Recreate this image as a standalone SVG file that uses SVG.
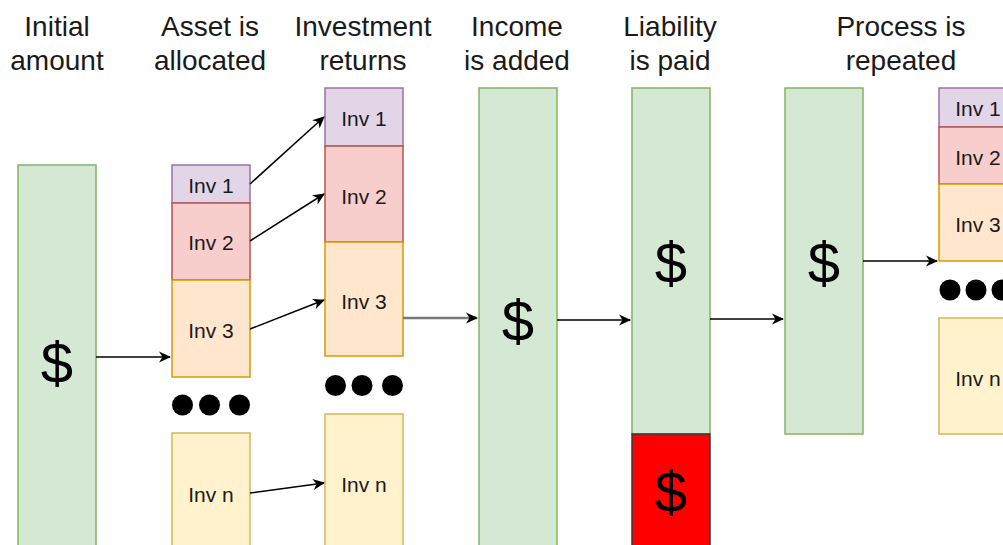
<svg xmlns="http://www.w3.org/2000/svg" width="1003" height="545" viewBox="0 0 1003 545">
<style>
.h{font-family:"Liberation Sans",Arial,sans-serif;font-size:28px;fill:#1a1a1a;text-anchor:middle}
.l{font-family:"Liberation Sans",Arial,sans-serif;font-size:21px;fill:#1a1a1a;text-anchor:middle;dominant-baseline:central}
.d{font-family:"Liberation Sans",Arial,sans-serif;font-size:58px;fill:#000;text-anchor:middle;dominant-baseline:central}
.g{fill:#d5e8d4;stroke:#82b366;stroke-width:1.5}
.p{fill:#e1d5e7;stroke:#9673a6;stroke-width:1.5}
.r{fill:#f8cecc;stroke:#b85450;stroke-width:1.5}
.o{fill:#ffe6cc;stroke:#d79b00;stroke-width:1.5}
.y{fill:#fff2cc;stroke:#d6b656;stroke-width:1.5}
.rr{fill:#ff0000;stroke:#36393d;stroke-width:1.5}
.c{stroke:#000;stroke-width:1.5;fill:none;marker-end:url(#a)}
</style>
<defs>
<marker id="a" viewBox="0 0 12 12" refX="11" refY="6" markerWidth="12" markerHeight="12" markerUnits="userSpaceOnUse" orient="auto">
<path d="M0,0.5 L12,6 L0,11.5 L3.5,6 Z" fill="#000"/>
</marker>
</defs>
<rect width="1003" height="545" fill="#fff"/>
<g id="headers">
<text class="h" x="57" y="36">Initial</text><text class="h" x="57" y="70">amount</text>
<text class="h" x="210" y="36">Asset is</text><text class="h" x="210" y="70">allocated</text>
<text class="h" x="363" y="36">Investment</text><text class="h" x="363" y="70">returns</text>
<text class="h" x="517" y="36">Income</text><text class="h" x="517" y="70">is added</text>
<text class="h" x="670" y="36">Liability</text><text class="h" x="670" y="70">is paid</text>
<text class="h" x="901" y="36">Process is</text><text class="h" x="901" y="70">repeated</text>
</g>
<g id="initial"><rect class="g" x="18" y="165" width="78" height="395"/><text class="d" x="57" y="362">$</text></g>
<g id="asset">
<g id="a1"><rect class="p" x="172" y="165" width="78" height="38"/><text class="l" x="211" y="185">Inv 1</text></g>
<g id="a2"><rect class="r" x="172" y="203" width="78" height="77"/><text class="l" x="211" y="242">Inv 2</text></g>
<g id="a3"><rect class="o" x="172" y="280" width="78" height="97"/><text class="l" x="211" y="330">Inv 3</text></g>
<g id="adots"><circle cx="182.5" cy="405" r="10.5"/><circle cx="209.5" cy="405" r="10.5"/><circle cx="239.5" cy="405" r="10.5"/></g>
<g id="an"><rect class="y" x="172" y="433" width="78" height="130"/><text class="l" x="211" y="494">Inv n</text></g>
</g>
<g id="returns">
<g id="r1"><rect class="p" x="325" y="88" width="78" height="58"/><text class="l" x="364" y="118">Inv 1</text></g>
<g id="r2"><rect class="r" x="325" y="146" width="78" height="96"/><text class="l" x="364" y="196">Inv 2</text></g>
<g id="r3"><rect class="o" x="325" y="242" width="78" height="114"/><text class="l" x="364" y="301">Inv 3</text></g>
<g id="rdots"><circle cx="335.5" cy="385.5" r="10.5"/><circle cx="362" cy="385.5" r="10.5"/><circle cx="392.5" cy="385.5" r="10.5"/></g>
<g id="rn"><rect class="y" x="325" y="414" width="78" height="150"/><text class="l" x="364" y="484">Inv n</text></g>
</g>
<g id="income"><rect class="g" x="479" y="88" width="78" height="470"/><text class="d" x="518" y="320">$</text></g>
<g id="liability">
<rect class="g" x="632" y="88" width="78" height="346"/><text class="d" x="671" y="262">$</text>
<rect class="rr" x="632" y="434" width="78" height="120"/><text class="d" x="671" y="491">$</text>
</g>
<g id="process"><rect class="g" x="785" y="88" width="78" height="346"/><text class="d" x="824" y="262">$</text></g>
<g id="next">
<g id="n1"><rect class="p" x="939" y="88" width="78" height="39"/><text class="l" x="978" y="108">Inv 1</text></g>
<g id="n2"><rect class="r" x="939" y="127" width="78" height="57"/><text class="l" x="978" y="157">Inv 2</text></g>
<g id="n3"><rect class="o" x="939" y="184" width="78" height="77"/><text class="l" x="978" y="224">Inv 3</text></g>
<g id="ndots"><circle cx="950" cy="290" r="10.5"/><circle cx="976" cy="290" r="10.5"/><circle cx="1002" cy="290" r="10.5"/></g>
<g id="nn"><rect class="y" x="939" y="318" width="78" height="116"/><text class="l" x="978" y="378">Inv n</text></g>
</g>
<g id="connectors">
<path class="c" d="M96,357 L170,357"/>
<path class="c" d="M250,184 L324,117"/>
<path class="c" d="M250,241 L324,194"/>
<path class="c" d="M250,329 L324,300"/>
<path class="c" d="M250,493 L324,483"/>
<path class="c" d="M403,318 L477,318" style="stroke:#777;stroke-width:2.5"/>
<path class="c" d="M557,320 L630,320"/>
<path class="c" d="M710,319 L783,319"/>
<path class="c" d="M863,261 L937,261"/>
</g>
</svg>
